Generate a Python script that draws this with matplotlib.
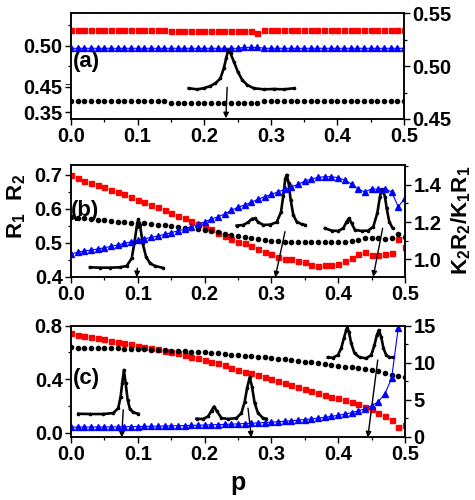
import numpy as np
import matplotlib
matplotlib.use('Agg')
import matplotlib.pyplot as plt
from matplotlib.ticker import FixedLocator, FormatStrFormatter

plt.rcParams['font.family'] = ['Liberation Sans', 'DejaVu Sans']
plt.rcParams['font.weight'] = 'bold'
plt.rcParams['mathtext.fontset'] = 'custom'
plt.rcParams['mathtext.rm'] = 'Liberation Sans:bold'
plt.rcParams['mathtext.bf'] = 'Liberation Sans:bold'
plt.rcParams['mathtext.it'] = 'Liberation Sans:bold'

# ---------------- data ----------------
p = np.linspace(0.0, 0.5, 51)

# panel (a)
a_R1 = [0.519] * 15 + [0.5175] * 13 + [0.516] + [0.519] * 22
a_R2 = [0.364] * 15 + [0.3615] * 14 + [0.364] * 22
a_K = [0.5167] * 26 + [0.5176] * 3 + [0.5167] * 22

# panel (b)
b_R1 = [0.700, 0.690, 0.683, 0.677, 0.671, 0.664, 0.656, 0.649, 0.643, 0.636,
        0.626, 0.620, 0.612, 0.605, 0.597, 0.589, 0.580, 0.573, 0.565, 0.556,
        0.548, 0.540, 0.530, 0.521, 0.511, 0.504, 0.499, 0.491, 0.481, 0.474,
        0.467, 0.460, 0.453, 0.452, 0.448, 0.445, 0.435, 0.432, 0.434, 0.435,
        0.437, 0.447, 0.455, 0.468, 0.474, 0.465, 0.465, 0.468, 0.471, 0.512, 0.487]
b_R2 = [0.576, 0.574, 0.572, 0.570, 0.568, 0.567, 0.565, 0.563, 0.562, 0.560,
        0.559, 0.558, 0.556, 0.554, 0.552, 0.550, 0.548, 0.545, 0.543, 0.540,
        0.538, 0.535, 0.531, 0.527, 0.523, 0.519, 0.517, 0.515, 0.512, 0.509,
        0.507, 0.506, 0.504, 0.502, 0.502, 0.502, 0.502, 0.502, 0.502, 0.502,
        0.503, 0.504, 0.507, 0.509, 0.514, 0.516, 0.514, 0.513, 0.514, 0.526, 0.517]
b_K = [1.028, 1.038, 1.045, 1.050, 1.055, 1.062, 1.070, 1.077, 1.086, 1.094,
       1.103, 1.110, 1.118, 1.125, 1.134, 1.143, 1.152, 1.161, 1.175, 1.188,
       1.200, 1.216, 1.228, 1.243, 1.262, 1.280, 1.291, 1.306, 1.322, 1.336,
       1.348, 1.362, 1.375, 1.389, 1.402, 1.420, 1.431, 1.440, 1.443, 1.443,
       1.438, 1.425, 1.404, 1.375, 1.362, 1.377, 1.377, 1.377, 1.362, 1.282, 1.327]

# panel (c)
c_R1 = [0.741, 0.728, 0.721, 0.711, 0.704, 0.696, 0.686, 0.676, 0.667, 0.659,
        0.649, 0.641, 0.634, 0.622, 0.610, 0.600, 0.593, 0.580, 0.567, 0.556,
        0.543, 0.530, 0.519, 0.506, 0.487, 0.470, 0.456, 0.444, 0.432, 0.419,
        0.402, 0.387, 0.370, 0.358, 0.345, 0.328, 0.313, 0.301, 0.284, 0.271,
        0.259, 0.247, 0.230, 0.215, 0.197, 0.178, 0.148, 0.123, 0.099, 0.044, 0.061]
c_R2 = [0.637, 0.636, 0.636, 0.635, 0.634, 0.633, 0.631, 0.630, 0.628, 0.626,
        0.624, 0.622, 0.620, 0.617, 0.615, 0.612, 0.610, 0.607, 0.605, 0.602,
        0.600, 0.596, 0.592, 0.588, 0.584, 0.580, 0.576, 0.572, 0.568, 0.564,
        0.560, 0.554, 0.548, 0.542, 0.537, 0.531, 0.525, 0.518, 0.512, 0.506,
        0.500, 0.494, 0.488, 0.482, 0.476, 0.469, 0.458, 0.446, 0.432, 0.424, 0.419]
c_K = [1.33, 1.34, 1.34, 1.35, 1.35, 1.36, 1.36, 1.37, 1.38, 1.40,
       1.41, 1.43, 1.44, 1.46, 1.48, 1.50, 1.52, 1.54, 1.56, 1.59,
       1.61, 1.64, 1.67, 1.70, 1.73, 1.77, 1.81, 1.85, 1.90, 1.95,
       2.00, 2.06, 2.12, 2.19, 2.27, 2.35, 2.44, 2.54, 2.65, 2.78,
       2.92, 3.08, 3.27, 3.50, 3.80, 4.20, 4.75, 5.80, 7.90, 14.7]

# inset spectra (drawn in the host axes' data units)
ins_a_x = [0.1767, 0.1893, 0.1992, 0.2093, 0.2169, 0.2244, 0.2294, 0.2330, 0.2360, 0.2395,
           0.2445, 0.2505, 0.2571, 0.2646, 0.2745, 0.2896, 0.3047, 0.3197, 0.3348]
ins_a_y = [0.4790, 0.4780, 0.4790, 0.4811, 0.4837, 0.4884, 0.4978, 0.5073, 0.5151, 0.5120,
           0.5041, 0.4946, 0.4868, 0.4821, 0.4790, 0.4780, 0.4783, 0.4780, 0.4790]

ins_b1_x = [0.0284, 0.0434, 0.0584, 0.0734, 0.0834, 0.0909, 0.0948, 0.0984, 0.1008, 0.1033,
            0.1073, 0.1123, 0.1183, 0.1257, 0.1382]
ins_b1_y = [0.4285, 0.4274, 0.4274, 0.4285, 0.4324, 0.4549, 0.4991, 0.5479, 0.5697, 0.5529,
            0.4991, 0.4597, 0.4403, 0.4324, 0.4265]
ins_b2_x = [0.2480, 0.2580, 0.2655, 0.2705, 0.2754, 0.2804, 0.2879, 0.2979, 0.3079, 0.3144,
            0.3179, 0.3208, 0.3229, 0.3259, 0.3289, 0.3328, 0.3378, 0.3453, 0.3503]
ins_b2_y = [0.5509, 0.5529, 0.5608, 0.5706, 0.5726, 0.5608, 0.5529, 0.5538, 0.5608, 0.5903,
            0.6393, 0.6882, 0.7000, 0.6756, 0.6265, 0.5824, 0.5627, 0.5550, 0.5529]
ins_b3_x = [0.3802, 0.3902, 0.4002, 0.4077, 0.4127, 0.4162, 0.4202, 0.4251, 0.4351, 0.4451,
            0.4526, 0.4586, 0.4626, 0.4651, 0.4675, 0.4701, 0.4726, 0.4765, 0.4816]
ins_b3_y = [0.5432, 0.5362, 0.5353, 0.5432, 0.5626, 0.5726, 0.5579, 0.5382, 0.5353, 0.5362,
            0.5479, 0.5873, 0.6362, 0.6579, 0.6509, 0.6362, 0.6020, 0.5626, 0.5432]

ins_c1_x = [0.0109, 0.0284, 0.0483, 0.0632, 0.0707, 0.0743, 0.0767, 0.0792, 0.0818, 0.0848,
            0.0882, 0.0931, 0.1006]
ins_c1_y = [0.143, 0.141, 0.141, 0.148, 0.185, 0.271, 0.370, 0.469, 0.370, 0.247,
            0.178, 0.153, 0.143]
ins_c2_x = [0.1879, 0.1978, 0.2053, 0.2104, 0.2142, 0.2187, 0.2253, 0.2352, 0.2477, 0.2552,
            0.2601, 0.2636, 0.2676, 0.2710, 0.2750, 0.2800, 0.2874, 0.2925]
ins_c2_y = [0.106, 0.104, 0.123, 0.167, 0.197, 0.160, 0.111, 0.104, 0.111, 0.148,
            0.234, 0.333, 0.415, 0.345, 0.222, 0.148, 0.111, 0.106]
ins_c3_x = [0.3846, 0.3921, 0.3996, 0.4046, 0.4085, 0.4121, 0.4136, 0.4160, 0.4196, 0.4245,
            0.4320, 0.4420, 0.4495, 0.4544, 0.4579, 0.4609, 0.4644, 0.4679, 0.4719, 0.4768, 0.4818]
ins_c3_y = [0.563, 0.560, 0.580, 0.630, 0.704, 0.766, 0.785, 0.753, 0.667, 0.593,
            0.563, 0.556, 0.580, 0.654, 0.728, 0.766, 0.716, 0.630, 0.580, 0.563, 0.563]

# arrows: (p_start, y_start, p_end, y_end)
arr_a = [(0.2345, 0.4799, 0.2325, 0.4507)]
arr_b = [(0.0993, 0.4256, 0.0984, 0.3995),
         (0.3204, 0.5332, 0.3058, 0.3990),
         (0.4666, 0.5432, 0.4525, 0.4005)]
arr_c = [(0.0782, 0.173, 0.0758, -0.033),
         (0.2650, 0.185, 0.2701, -0.033),
         (0.4593, 0.543, 0.4444, -0.033)]

xticks = [0.0, 0.1, 0.2, 0.3, 0.4, 0.5]
xminor = [0.05, 0.15, 0.25, 0.35, 0.45]

# ---------------- figure ----------------
fig = plt.figure(figsize=(4.75, 5.0), dpi=100)
axA = fig.add_axes([0.1495, 0.762, 0.701, 0.212])
axB = fig.add_axes([0.1495, 0.446, 0.703, 0.224])
axC = fig.add_axes([0.1495, 0.126, 0.703, 0.223])

LS = 14.5
red_kw = dict(ls='none', marker='s', ms=3.6, color='#ff0000', mec='#ff0000')
blk_kw = dict(ls='none', marker='o', ms=3.0, color='black')
blu_kw = dict(ls='-', lw=0.8, marker='^', ms=4.4, color='#0000ff')
ins_kw = dict(ls='-', lw=1.9, marker='o', ms=1.6, color='black', zorder=5)
arr_props = dict(arrowstyle='-|>', color='black', lw=1.0, mutation_scale=8,
                 shrinkA=0, shrinkB=0)


def style(ax, ax2):
    for a in (ax, ax2):
        for s in a.spines.values():
            s.set_linewidth(1.1)
        a.tick_params(which='major', direction='out', length=4, width=1.0,
                      labelsize=LS, pad=2)
        a.tick_params(which='minor', direction='out', length=2.5, width=0.9)
    ax.set_xlim(0, 0.5)
    ax.xaxis.set_major_locator(FixedLocator(xticks))
    ax.xaxis.set_minor_locator(FixedLocator(xminor))
    ax.xaxis.set_major_formatter(FormatStrFormatter('%.1f'))


def draw_arrows(ax, arrows):
    for ps, ys, pe, ye in arrows:
        ax.annotate('', xy=(pe, ye), xytext=(ps, ys), arrowprops=arr_props,
                    annotation_clip=False, zorder=6)


# ----- panel (a): broken left axis -----
brk_in = [-10.0, 0.38, 0.45, 10.0]
brk_out = [-10.0 + 0.0695, 0.4495, 0.45, 10.0]


def fwd(v):
    return np.interp(v, brk_in, brk_out)


def inv(d):
    return np.interp(d, brk_out, brk_in)


axA.set_yscale('function', functions=(fwd, inv))
axA2 = axA.twinx()
axA.plot(p, a_R1, **red_kw)
axA.plot(p, a_R2, **blk_kw)
axA2.plot(p, a_K, **blu_kw)
axA2.plot(ins_a_x, ins_a_y, **ins_kw)
draw_arrows(axA2, arr_a)
axA.set_ylim(0.3415, 0.540)
axA.yaxis.set_major_locator(FixedLocator([0.35, 0.45, 0.50]))
axA.yaxis.set_minor_locator(FixedLocator([0.475, 0.525]))
axA.yaxis.set_major_formatter(FormatStrFormatter('%.2f'))
axA2.set_ylim(0.45, 0.55)
axA2.yaxis.set_major_locator(FixedLocator([0.45, 0.50, 0.55]))
axA2.yaxis.set_minor_locator(FixedLocator([0.475, 0.525]))
axA2.yaxis.set_major_formatter(FormatStrFormatter('%.2f'))
style(axA, axA2)
axA.text(-0.008, 0.302, '=', transform=axA.transAxes, ha='center', va='center',
         fontsize=9, fontweight='normal')
axA.text(0.005, 0.54, '(a)', transform=axA.transAxes, ha='left', va='center',
         fontsize=16, fontweight='bold', zorder=7)

# ----- panel (b) -----
axB2 = axB.twinx()
axB.plot(p, b_R1, **red_kw)
axB.plot(p, b_R2, **blk_kw)
axB2.plot(p, b_K, **blu_kw)
for xs, ys in ((ins_b1_x, ins_b1_y), (ins_b2_x, ins_b2_y), (ins_b3_x, ins_b3_y)):
    axB.plot(xs, ys, **ins_kw)
draw_arrows(axB, arr_b)
axB.set_ylim(0.4, 0.729)
axB.yaxis.set_major_locator(FixedLocator([0.4, 0.5, 0.6, 0.7]))
axB.yaxis.set_minor_locator(FixedLocator([0.45, 0.55, 0.65]))
axB.yaxis.set_major_formatter(FormatStrFormatter('%.1f'))
axB2.set_ylim(0.905, 1.506)
axB2.yaxis.set_major_locator(FixedLocator([1.0, 1.2, 1.4]))
axB2.yaxis.set_minor_locator(FixedLocator([1.1, 1.3, 1.5]))
axB2.yaxis.set_major_formatter(FormatStrFormatter('%.1f'))
style(axB, axB2)
axB.text(0.0, 0.598, '(b)', transform=axB.transAxes, ha='left', va='center',
         fontsize=16, fontweight='bold', zorder=7)

# ----- panel (c) -----
axC2 = axC.twinx()
axC.plot(p, c_R1, **red_kw)
axC.plot(p, c_R2, **blk_kw)
axC2.plot(p[:len(c_K)], c_K, **blu_kw)
for xs, ys in ((ins_c1_x, ins_c1_y), (ins_c2_x, ins_c2_y), (ins_c3_x, ins_c3_y)):
    axC.plot(xs, ys, **ins_kw)
draw_arrows(axC, arr_c)
axC.set_ylim(-0.03, 0.8)
axC.yaxis.set_major_locator(FixedLocator([0.0, 0.4, 0.8]))
axC.yaxis.set_minor_locator(FixedLocator([0.2, 0.6]))
axC.yaxis.set_major_formatter(FormatStrFormatter('%.1f'))
axC2.set_ylim(0, 15)
axC2.yaxis.set_major_locator(FixedLocator([0, 5, 10, 15]))
axC2.yaxis.set_minor_locator(FixedLocator([2.5, 7.5, 12.5]))
axC2.yaxis.set_major_formatter(FormatStrFormatter('%d'))
style(axC, axC2)
axC.text(0.006, 0.526, '(c)', transform=axC.transAxes, ha='left', va='center',
         fontsize=16, fontweight='bold', zorder=7)

# ----- labels -----
fig.text(17 / 475, 1 - 206 / 500, r'$\mathbf{R_1\ \ R_2}$', rotation=90,
         ha='center', va='center', fontsize=16)
fig.text(461 / 475, 1 - 220 / 500, r'$\mathbf{K_2R_2/K_1R_1}$', rotation=90,
         ha='center', va='center', fontsize=16)
fig.text(238 / 475, 1 - 483 / 500, 'p', ha='center', va='center',
         fontsize=18, fontweight='bold')

fig.savefig('out.png', dpi=100)
